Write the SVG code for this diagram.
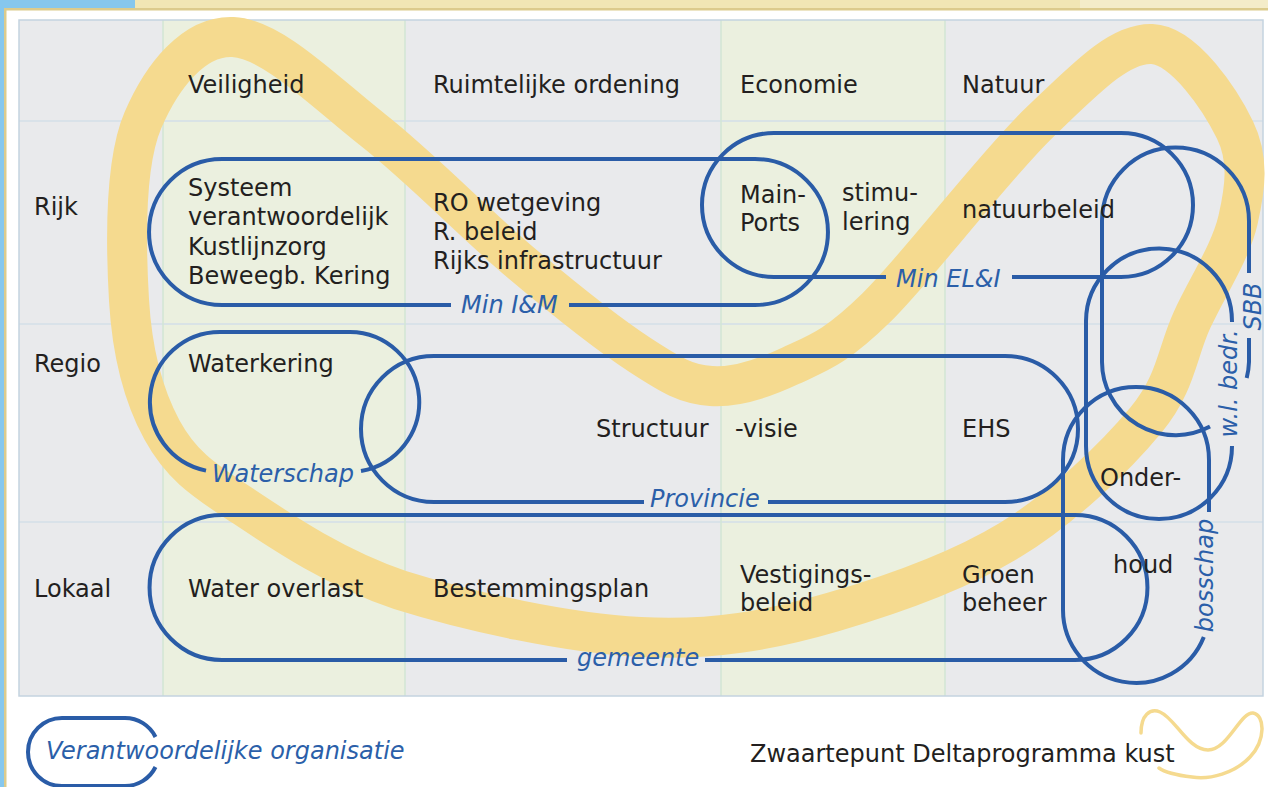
<svg xmlns="http://www.w3.org/2000/svg" width="1268" height="787" viewBox="0 0 1268 787">
<style>
.t{font-family:"DejaVu Sans","Liberation Sans",sans-serif;font-size:24px;fill:#231f20}
.b{font-family:"DejaVu Sans","Liberation Sans",sans-serif;font-size:24px;font-style:italic;fill:#2b5fa9}
.loop{fill:none;stroke:#2a5ca7;stroke-width:4;stroke-linecap:butt}
.gray{fill:#e9eaec}
.green{fill:#ebf0df}
.hl{stroke:#d3dfe8;stroke-width:1.5}
.vl{stroke:#d2e6d4;stroke-width:1.5}
</style>
<rect width="1268" height="787" fill="#ffffff"/>
<g id="frame">
<rect x="0" y="0" width="135" height="8" fill="#86c7ed"/>
<rect x="135" y="0" width="945" height="8" fill="#f1e6b4"/>
<rect x="1080" y="0" width="188" height="8" fill="#f4ecc9"/>
<rect x="4" y="8" width="1264" height="2.5" fill="#dccb8c"/>
<rect x="0" y="0" width="4" height="787" fill="#86c7ed"/>
<rect x="4" y="8" width="2.5" height="779" fill="#dccb8c"/>
</g>
<g id="table">
<rect x="19" y="20" width="1244" height="676" class="gray"/>
<rect x="163" y="20" width="242" height="676" class="green"/>
<rect x="721" y="20" width="224" height="676" class="green"/>
<line x1="19" y1="121" x2="1263" y2="121" class="hl"/>
<line x1="19" y1="324" x2="1263" y2="324" class="hl"/>
<line x1="19" y1="522" x2="1263" y2="522" class="hl"/>
<line x1="163" y1="20" x2="163" y2="696" class="vl"/>
<line x1="405" y1="20" x2="405" y2="696" class="vl"/>
<line x1="721" y1="20" x2="721" y2="696" class="vl"/>
<line x1="945" y1="20" x2="945" y2="696" class="vl"/>
<rect x="19" y="20" width="1244" height="676" fill="none" stroke="#c4d3e0" stroke-width="1.5"/>
</g>
<g id="band">
<path fill="none" stroke="#f5da8f" stroke-width="40" d="M233,37 C272.2,38.7 325.2,92.5 373,130 C420.8,167.5 475.5,224.5 520,262 C564.5,299.5 608.2,334.3 640,355 C671.8,375.7 686,384.2 711,386 C736,387.8 762.5,379 790,366 C817.5,353 834.3,348.7 876,308 C917.7,267.3 994,166 1040,122 C1086,78 1119.5,42.7 1152,44 C1184.5,45.3 1220.7,100.7 1235,130 C1249.3,159.3 1245.2,188.3 1238,220 C1230.8,251.7 1207.3,286.7 1192,320 C1176.7,353.3 1176.3,383.3 1146,420 C1115.7,456.7 1062.2,508.3 1010,540 C957.8,571.7 894.7,594 833,612 C771.3,630 712.2,641 640,637 C567.8,633 470,612 400,590 C335,568 282,532 240,504 C200,478 180,463 162,430 C144,397 132,352 129,300 C126,248 124,164 143,120 C162,76 193.8,35.3 233,37 Z"/>
</g>
<g id="connectors">
<g id="org-min-im">
<path class="loop" d="M569,305 L755,305 A73,73 0 0 0 755,159 L222,159 A73,73 0 0 0 222,305 L451,305"/>
<text class="b" x="461" y="312.5">Min I&amp;M</text>
</g>
<g id="org-min-eli">
<path class="loop" d="M1012,277 L1121,277 A72,72 0 0 0 1121,133 L774,133 A72,72 0 0 0 774,277 L886,277"/>
<text class="b" x="896" y="286.5">Min EL&amp;I</text>
</g>
<g id="org-waterschap">
<path class="loop" d="M361,471 A70,70 0 0 0 350,332 L220,332 A70,70 0 0 0 206,470.6"/>
<text class="b" x="212" y="482">Waterschap</text>
</g>
<g id="org-provincie">
<path class="loop" d="M768,502 L1005,502 A73,73 0 0 0 1005,356 L434,356 A73,73 0 0 0 434,502 L644,502"/>
<text class="b" x="650" y="507">Provincie</text>
</g>
<g id="org-gemeente">
<path class="loop" d="M705,660 L1075,660 A72.5,72.5 0 0 0 1075,515 L222,515 A72.5,72.5 0 0 0 222,660 L567,660"/>
<text class="b" x="577" y="666">gemeente</text>
</g>
<g id="org-sbb">
<path class="loop" d="M1249,273 L1249,221 A73.5,73.5 0 0 0 1102,221 L1102,362 A73.5,73.5 0 0 0 1210,426.6"/>
<path class="loop" d="M1249,338 L1249,362 A73.5,73.5 0 0 1 1246.7,378"/>
<text class="b" transform="translate(1261,306.5) rotate(-90)" text-anchor="middle">SBB</text>
</g>
<g id="org-wl-bedr">
<path class="loop" d="M1232,322 A73,73 0 0 0 1086,321 L1086,446 A73,73 0 0 0 1232,446"/>
<text class="b" transform="translate(1237,383.5) rotate(-90)" text-anchor="middle">w.l. bedr.</text>
</g>
<g id="org-bosschap">
<path class="loop" d="M1209,512 L1209,460 A73,73 0 0 0 1063,460 L1063,610 A73,73 0 0 0 1203.8,637"/>
<text class="b" transform="translate(1213,575.5) rotate(-90)" text-anchor="middle">bosschap</text>
</g>
</g>
<g id="headers">
<text class="t" x="188" y="93">Veiligheid</text>
<text class="t" x="433" y="93">Ruimtelijke ordening</text>
<text class="t" x="740" y="93">Economie</text>
<text class="t" x="962" y="93">Natuur</text>
<text class="t" x="34" y="215">Rijk</text>
<text class="t" x="34" y="371.5">Regio</text>
<text class="t" x="34" y="597">Lokaal</text>
</g>
<g id="cell-rijk-veiligheid"><text class="t" x="188" y="196">Systeem</text><text class="t" x="188" y="225.3">verantwoordelijk</text><text class="t" x="188" y="254.6">Kustlijnzorg</text><text class="t" x="188" y="284">Beweegb. Kering</text></g>
<g id="cell-rijk-ro"><text class="t" x="433" y="210.5">RO wetgeving</text><text class="t" x="433" y="239.5">R. beleid</text><text class="t" x="433" y="268.5">Rijks infrastructuur</text></g>
<g id="cell-rijk-economie"><text class="t" x="740" y="202.5">Main-</text><text class="t" x="740" y="231">Ports</text><text class="t" x="842" y="201">stimu-</text><text class="t" x="842" y="229.5">lering</text></g>
<g id="cell-rijk-natuur"><text class="t" x="962" y="217.5">natuurbeleid</text></g>
<g id="cell-regio-veiligheid"><text class="t" x="188" y="371.5">Waterkering</text></g>
<g id="cell-regio-ro"><text class="t" x="596" y="437">Structuur</text><text class="t" x="735" y="437">-visie</text></g>
<g id="cell-regio-natuur"><text class="t" x="962" y="437">EHS</text><text class="t" x="1100" y="486">Onder-</text></g>
<g id="cell-lokaal-veiligheid"><text class="t" x="188" y="597">Water overlast</text></g>
<g id="cell-lokaal-ro"><text class="t" x="433" y="596.5">Bestemmingsplan</text></g>
<g id="cell-lokaal-economie"><text class="t" x="740" y="582.7">Vestigings-</text><text class="t" x="740" y="611">beleid</text></g>
<g id="cell-lokaal-natuur"><text class="t" x="962" y="582.7">Groen</text><text class="t" x="962" y="611">beheer</text><text class="t" x="1113" y="572.7">houd</text></g>
<g id="legend">
<path class="loop" d="M155.5,737 A34,34 0 0 0 125,718 L62,718 A34,34 0 0 0 62,786 L125,786 A34,34 0 0 0 155.5,767"/>
<text class="b" x="46" y="759">Verantwoordelijke organisatie</text>
</g>
<g id="footer">
<text class="t" x="750" y="762">Zwaartepunt Deltaprogramma kust</text>
<path fill="none" stroke="#f5da8f" stroke-width="3.5" stroke-linecap="round" d="M1141,733 C1141,715 1150,708 1160,712 C1175,718 1188,750 1208,750 C1228,750 1240,712 1253,713 C1265,715 1266,740 1250,757 C1235,773 1210,780 1192,777 C1175,775 1163,771 1159,768"/>
</g>
</svg>
